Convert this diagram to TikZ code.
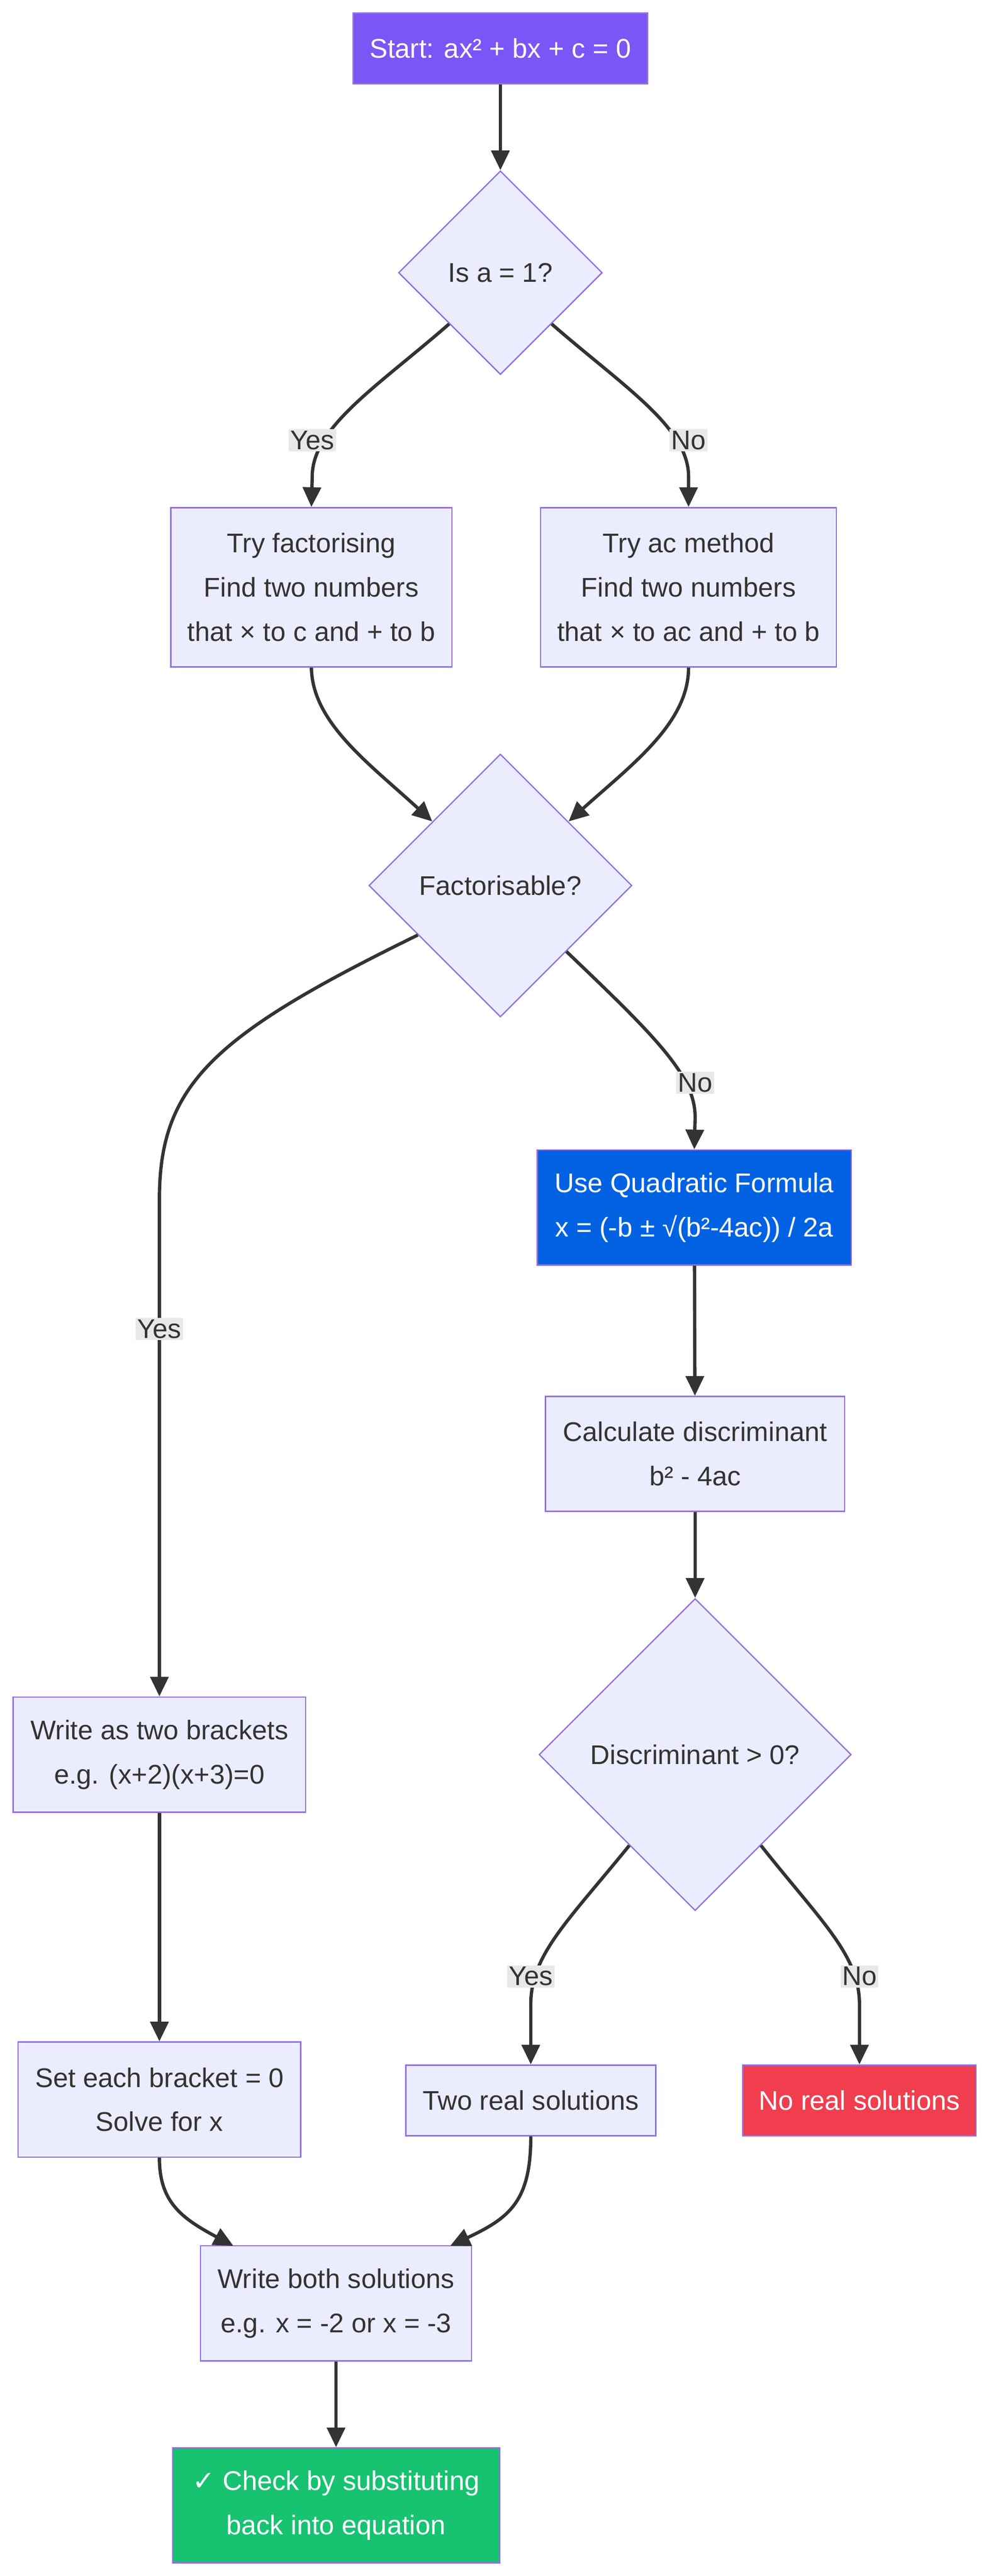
\documentclass[tikz,border=0pt]{standalone}
\usepackage{fontspec}
\setmainfont{Liberation Sans}
\newfontfamily\symf{DejaVu Sans}
\usetikzlibrary{shapes.geometric,arrows.meta,calc}
\definecolor{boxfill}{HTML}{ECECFF}
\definecolor{boxline}{HTML}{9370DB}
\definecolor{startc}{HTML}{7B55F5}
\definecolor{bluec}{HTML}{0062E3}
\definecolor{redc}{HTML}{F03E4E}
\definecolor{greenc}{HTML}{17C270}
\definecolor{txt}{HTML}{333333}
\definecolor{lbl}{HTML}{E8E8E8}
\begin{document}
\begin{tikzpicture}[x=1bp,y=-1bp,
  every node/.style={font=\fontsize{16.5}{27}\selectfont, text=txt, align=center},
  box/.style={draw=boxline, fill=boxfill, line width=0.8bp, inner sep=0pt},
  dia/.style={diamond, draw=boxline, fill=boxfill, line width=0.8bp, inner sep=0pt, aspect=1},
  arr/.style={draw=txt, line width=2bp, -{Triangle[length=12bp,width=11bp]}},
  lab/.style={fill=lbl, inner sep=1bp, text=txt}]
\useasboundingbox (0,0) rectangle (603,1568);
\node[box, fill=startc, draw=boxline, text=white, minimum width=179bp, minimum height=43bp] (start) at (304.5,29.5) {Start: ax² + bx + c = 0};
\node[dia, minimum width=124bp, minimum height=124bp] (d1) at (304.5,166) {Is a = 1?};
\node[box, minimum width=171bp, minimum height=97bp] (tf) at (189.5,357.5) {Try factorising\\Find two numbers\\that × to c and + to b};
\node[box, minimum width=180bp, minimum height=97bp] (ac) at (419,357.5) {Try ac method\\Find two numbers\\that × to ac and + to b};
\node[dia, minimum width=160bp, minimum height=160bp] (fac) at (304.5,539) {Factorisable?};
\node[box, fill=bluec, text=white, minimum width=191bp, minimum height=70bp] (qf) at (422.5,735) {Use Quadratic Formula\\x = (-b ± √(b²-4ac)) / 2a};
\node[box, minimum width=182bp, minimum height=70bp] (cd) at (423,885) {Calculate discriminant\\b² - 4ac};
\node[dia, minimum width=190bp, minimum height=190bp] (d3) at (423,1068) {Discriminant > 0?};
\node[box, minimum width=178bp, minimum height=70bp] (wb) at (97,1068) {Write as two brackets\\e.g. (x+2)(x+3)=0};
\node[box, minimum width=172bp, minimum height=70bp] (se) at (97,1278) {Set each bracket = 0\\Solve for x};
\node[box, minimum width=152bp, minimum height=43bp] (tr) at (323,1278.5) {Two real solutions};
\node[box, fill=redc, text=white, minimum width=142bp, minimum height=43bp] (nr) at (523,1278.5) {No real solutions};
\node[box, minimum width=165bp, minimum height=70bp] (ws) at (204.5,1402) {Write both solutions\\e.g. x = -2 or x = -3};
\node[box, fill=greenc, text=white, minimum width=199bp, minimum height=70bp] (ck) at (204.5,1525) {{\symf ✓} Check by substituting\\back into equation};

\draw[arr] (start) -- (d1);
\draw[arr] (d1.south west) .. controls (230,235) and (190,260) .. (190,290) -- (tf.north);
\draw[arr] (d1.south east) .. controls (379,235) and (419,260) .. (419,290) -- (ac.north);
\node[lab] at (190,268) {Yes};
\node[lab] at (419,268) {No};
\draw[arr] (tf.south) .. controls (190,440) and (225,465) .. (263,500);
\draw[arr] (ac.south) .. controls (419,440) and (385,465) .. (346,500);
\draw[arr] ($(fac.west)!0.375!(fac.south)$) .. controls (130,630) and (97,660) .. (97,730) -- (wb.north);
\node[lab] at (97,809) {Yes};
\draw[arr] (fac.south east) .. controls (400,632) and (423,655) .. (423,680) -- (qf.north);
\node[lab] at (423,659) {No};
\draw[arr] (qf) -- (cd);
\draw[arr] (cd) -- (d3);
\draw[arr] ($(d3.west)!0.58!(d3.south)$) .. controls (345,1170) and (323,1190) .. (323,1220) -- (tr.north);
\node[lab] at (323,1203) {Yes};
\draw[arr] ($(d3.east)!0.58!(d3.south)$) .. controls (500,1170) and (523,1190) .. (523,1220) -- (nr.north);
\node[lab] at (523,1203) {No};
\draw[arr] (wb) -- (se);
\draw[arr] (se.south) .. controls (97,1340) and (110,1350) .. (142,1367);
\draw[arr] (tr.south) .. controls (323,1340) and (310,1350) .. (274,1367);
\draw[arr] (ws) -- (ck);
\end{tikzpicture}
\end{document}
